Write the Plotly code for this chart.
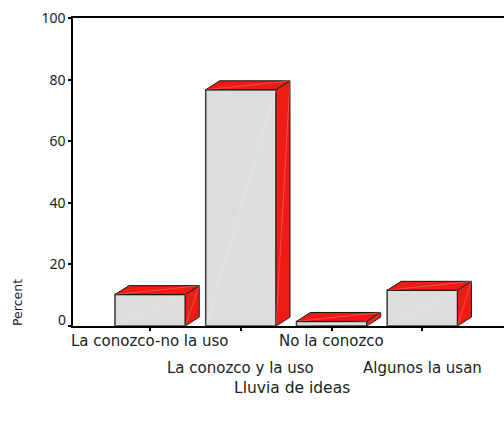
import plotly.graph_objects as go

categories = ["La conozco-no la uso", "La conozco y la uso", "No la conozco", "Algunos la usan"]
percent = [10.2, 76.7, 1.5, 11.6]
y_ticks = [0, 20, 40, 60, 80, 100]
y_tick_labels = ["", "20", "40", "60", "80", "100"]

BAR_W = 0.775
DX = 0.154
DY = 2.9
RED = "#ee1c14"
GREY = "#dddddd"
EDGE = "#3a3a3a"
STREAK = "rgba(255,255,255,0.22)"
FONT = "DejaVu Sans"
TEXT = "#222222"
PW, PH = 431, 308

fig = go.Figure()
fig.add_bar(x=list(range(4)), y=percent, width=BAR_W, marker=dict(color=GREY, line=dict(color=EDGE, width=1.5)),
            showlegend=False, hoverinfo="skip")

for i, v in enumerate(percent):
    l, r = i - BAR_W / 2, i + BAR_W / 2
    fig.add_scatter(x=[l, l + DX, r + DX, r, l], y=[v, v + DY, v + DY, v, v], mode="lines", fill="toself",
                    fillcolor=RED, line=dict(color="#111111", width=1), showlegend=False, hoverinfo="skip")
    fig.add_scatter(x=[r, r + DX, r + DX, r, r], y=[0, DY, v + DY, v, 0], mode="lines", fill="toself",
                    fillcolor=RED, line=dict(color="#222222", width=1), showlegend=False, hoverinfo="skip")
    for xs, ys in (([l, r], [0, v]), ([r, r + DX], [0, v + DY]), ([l, r + DX], [v, v + DY])):
        fig.add_scatter(x=xs, y=ys, mode="lines", line=dict(color=STREAK, width=1), showlegend=False, hoverinfo="skip")

for i, c in enumerate(categories):
    row_y = 341 if i % 2 == 0 else 368
    fig.add_annotation(x=i, xref="x", y=-(row_y - 326) / PH, yref="paper", yanchor="middle", text=c, showarrow=False,
                       font=dict(family=FONT, size=15, color=TEXT))

fig.update_layout(
    width=504, height=422, margin=dict(l=73, r=0, t=18, b=96),
    paper_bgcolor="white", plot_bgcolor="white", showlegend=False,
    font=dict(family=FONT, size=14, color=TEXT),
    xaxis=dict(range=[-0.85, 3.9], tickvals=list(range(4)), ticktext=[""] * 4, ticks="outside", ticklen=3, tickwidth=2,
               tickcolor="black", showgrid=False, zeroline=False, showline=True, linecolor="black", linewidth=1.5, mirror=True),
    yaxis=dict(range=[0, 100], tickvals=y_ticks, ticktext=y_tick_labels, ticks="outside", ticklen=3, tickwidth=2, tickcolor="black",
               showgrid=False, zeroline=False, showline=True, linecolor="black", linewidth=1.5,
               ticklabelstandoff=0, tickfont=dict(family="Noto Sans", size=14, color=TEXT)),
)
fig.add_annotation(xref="paper", x=(68 - 73) / PW, xanchor="right", yref="paper", y=(326 - 319) / PH, yanchor="middle", text="0",
                   showarrow=False, font=dict(family="Noto Sans", size=14, color=TEXT))
fig.add_annotation(xref="paper", x=(292 - 73) / PW, yref="paper", y=-(388 - 326) / PH, text="Lluvia de ideas",
                   showarrow=False, yanchor="middle", font=dict(family=FONT, size=15.5, color=TEXT))
fig.add_annotation(xref="paper", x=(17 - 73) / PW, xanchor="center", yref="paper", y=(326 - 303) / PH, text="Percent", textangle=-90,
                   showarrow=False, yanchor="middle", font=dict(family=FONT, size=12.5, color=TEXT))
fig.write_html("out.html", post_script="document.body.style.margin='0';", config={"displayModeBar": False})
